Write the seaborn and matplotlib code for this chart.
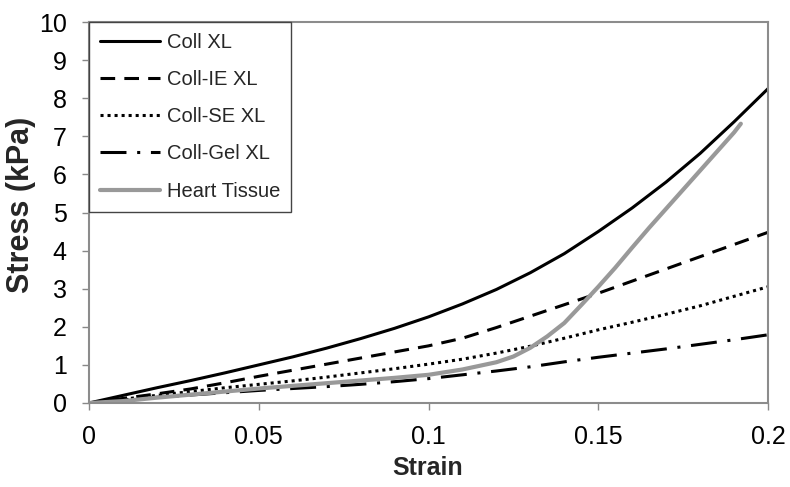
import matplotlib
matplotlib.use("Agg")
import matplotlib.pyplot as plt
import seaborn as sns
import pandas as pd

strain = [0.0, 0.01, 0.02, 0.03, 0.04, 0.05, 0.06, 0.07, 0.08, 0.09, 0.10,
          0.11, 0.12, 0.13, 0.14, 0.15, 0.16, 0.17, 0.18, 0.19, 0.20]
coll_xl = [0.0, 0.2, 0.4, 0.59, 0.79, 1.0, 1.21, 1.44, 1.69, 1.96, 2.26,
           2.6, 2.98, 3.42, 3.92, 4.5, 5.12, 5.8, 6.55, 7.38, 8.25]
coll_ie = [0.0, 0.12, 0.24, 0.37, 0.53, 0.7, 0.86, 1.02, 1.18, 1.34, 1.5,
           1.7, 1.98, 2.28, 2.58, 2.88, 3.2, 3.52, 3.84, 4.16, 4.48]
coll_se = [0.0, 0.1, 0.2, 0.3, 0.4, 0.49, 0.58, 0.68, 0.79, 0.9, 1.02,
           1.15, 1.31, 1.49, 1.7, 1.92, 2.12, 2.33, 2.55, 2.8, 3.05]
coll_gel = [0.0, 0.08, 0.15, 0.21, 0.27, 0.33, 0.38, 0.43, 0.49, 0.56, 0.64,
            0.74, 0.84, 0.95, 1.08, 1.2, 1.31, 1.42, 1.54, 1.66, 1.79]
heart_strain = [0.0, 0.01, 0.02, 0.03, 0.04, 0.05, 0.06, 0.07, 0.08, 0.09, 0.10,
                0.11, 0.12, 0.125, 0.13, 0.135, 0.14, 0.145, 0.15, 0.155, 0.16,
                0.165, 0.17, 0.175, 0.18, 0.185, 0.19, 0.192]
heart = [0.0, 0.05, 0.14, 0.22, 0.3, 0.38, 0.45, 0.52, 0.59, 0.66, 0.74,
         0.88, 1.07, 1.22, 1.45, 1.75, 2.1, 2.57, 3.05, 3.55, 4.08,
         4.6, 5.1, 5.6, 6.1, 6.6, 7.1, 7.33]

labels = ["Coll XL", "Coll-IE XL", "Coll-SE XL", "Coll-Gel XL", "Heart Tissue"]
xticks = [0, 0.05, 0.1, 0.15, 0.2]
xtick_labels = ["0", "0.05", "0.1", "0.15", "0.2"]
yticks = list(range(0, 11))

sns.set_theme(style="white")
plt.rcParams['font.family'] = ['Liberation Sans', 'DejaVu Sans']

fig = plt.figure(figsize=(7.9, 4.87), dpi=100)
ax = fig.add_axes([89/790, 1 - 403/487, (768-89)/790, (403-22)/487])

styles = [
    dict(color="black", lw=2.2, ls="-"),
    dict(color="black", lw=2.2, ls=(0, (4.8, 3.0))),
    dict(color="black", lw=2.2, ls=(0, (1, 1.3))),
    dict(color="black", lw=2.2, ls=(0, (8.5, 3.5, 1, 3.5))),
    dict(color="#999999", lw=3.0, ls="-"),
]
series = [(strain, coll_xl), (strain, coll_ie), (strain, coll_se), (strain, coll_gel), (heart_strain, heart)]
for (xs, ys), lab, st in zip(series, labels, styles):
    df = pd.DataFrame({"Strain": xs, "Stress": ys})
    sns.lineplot(data=df, x="Strain", y="Stress", ax=ax, label=lab,
                 color=st["color"], linewidth=st["lw"], linestyle=st["ls"],
                 solid_capstyle="round", dash_capstyle="butt")

ax.set_xlim(0, 0.2)
ax.set_ylim(0, 10)
ax.set_xticks(xticks)
ax.set_xticklabels(xtick_labels)
ax.set_yticks(yticks)
ax.tick_params(axis="both", which="major", direction="out", length=5, width=1,
               color="#888888", labelsize=18, labelcolor="black", pad=11,
               bottom=True, left=True)
for sp in ax.spines.values():
    sp.set_color("#8c8c8c")
    sp.set_linewidth(1.5)
ax.set_xlabel("Strain", fontsize=18, fontweight="bold")
ax.set_ylabel("Stress (kPa)", fontsize=22, fontweight="bold")
ax.xaxis.set_label_coords(0.499, -0.14)
ax.yaxis.set_label_coords(-0.078, 0.52)

leg = ax.legend(loc="upper left", bbox_to_anchor=(0, 1), borderaxespad=0,
                fontsize=14.5, handlelength=3.0, handletextpad=0.3,
                labelspacing=0.9, borderpad=0.55, frameon=True, fancybox=False,
                framealpha=1, edgecolor="#444444")
leg.get_frame().set_linewidth(1.0)

fig.savefig("out.png", dpi=100)
